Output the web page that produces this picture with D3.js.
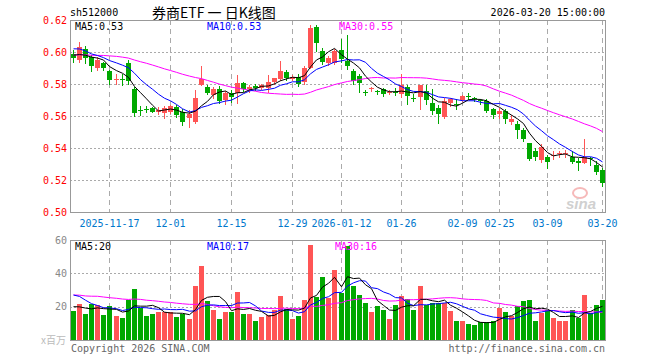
<!DOCTYPE html>
<html>
<head>
<meta charset="utf-8">
<script src="https://cdn.jsdelivr.net/npm/d3@7"></script>
<style>
body { margin: 0; background: #fff; }
text { font-family: "DejaVu Sans Mono", monospace; font-size: 10px; }
</style>
</head>
<body>
<div id="vis"></div>
<script>
// daily bars, 2025-11-07 .. 2026-03-20
var opens = [.599,.595,.602,.597,.590,.593,.588,.5828,.5832,.593,
  .577,.5635,.5645,.5648,.5628,.562,.5628,.5655,.5625,.5585,
  .5565,.5795,.5783,.5733,.5767,.570,.5745,.5742,.5804,.5769,
  .5789,.5777,.5773,.5815,.5831,.5877,.5831,.5846,.5815,.5902,
  .6158,.6006,.5929,.5929,.601,.5942,.5881,.585,.5752,.5768,
  .5755,.5767,.5748,.5752,.5735,.5779,.5712,.5717,.5756,.5679,
  .5652,.5596,.5679,.5675,.570,.5722,.5712,.5702,.5694,.5646,
  .561,.5631,.5563,.5548,.5513,.5433,.5381,.5325,.5346,.5352,
  .5363,.5363,.5346,.5321,.5304,.5339,.5292,.5263];
var closes = [.596,.603,.596,.591,.595,.590,.5825,.5833,.5828,.582,
  .5617,.5632,.564,.5628,.564,.5648,.5662,.5607,.556,.5612,
  .571,.583,.5746,.5767,.5696,.5742,.572,.5804,.5769,.5783,
  .5777,.5794,.5815,.5835,.5881,.5835,.5846,.5798,.5902,.6152,
  .6054,.594,.596,.6006,.5955,.5915,.5819,.5808,.5748,.5772,
  .5752,.5735,.5752,.5748,.5792,.5723,.5708,.5792,.5702,.5631,
  .561,.5694,.5704,.567,.5723,.5718,.5708,.5698,.5631,.5604,
  .5631,.5579,.5583,.5513,.5458,.5329,.5346,.5408,.5315,.5356,
  .5367,.5367,.5315,.5304,.5342,.5335,.525,.5179];
var highs = [.601,.606,.604,.598,.597,.594,.589,.586,.586,.595,
  .578,.566,.566,.5655,.5655,.566,.567,.567,.5645,.564,
  .5763,.591,.5795,.578,.5785,.5755,.5765,.5856,.5815,.5795,
  .580,.580,.5856,.584,.5944,.589,.5855,.5865,.5915,.6169,
  .6168,.6025,.5975,.602,.608,.6104,.5895,.5862,.5765,.578,
  .5765,.5772,.5762,.5772,.5861,.5792,.5735,.5795,.5792,.577,
  .5668,.571,.5715,.5705,.5732,.5745,.5718,.5705,.5705,.5652,
  .5652,.5645,.5604,.5569,.5527,.5433,.5402,.5427,.5354,.5381,
  .5381,.5385,.5381,.5335,.5454,.5342,.5317,.5277];
var lows = [.594,.594,.593,.588,.589,.589,.580,.580,.5795,.580,
  .560,.5605,.5625,.5622,.561,.559,.562,.5595,.5545,.553,
  .5555,.5792,.5735,.5712,.568,.5675,.569,.568,.5755,.575,
  .5765,.577,.5752,.580,.5825,.5828,.5825,.579,.5798,.590,
  .6006,.5925,.592,.5925,.594,.5895,.580,.5752,.573,.5755,
  .5738,.5725,.5735,.573,.572,.5673,.5692,.5646,.5673,.561,
  .5554,.5585,.5665,.5645,.5695,.5705,.5695,.5675,.5625,.559,
  .559,.5554,.5548,.5464,.5446,.5323,.5323,.5315,.5277,.533,
  .5342,.5342,.5308,.5265,.5304,.5296,.5235,.5163];
// volume, millions
var volumes = [17.4,21.4,15.4,21.4,20.8,15,20.4,14.3,13.3,24,
  30.5,19.4,14.3,15.8,17,17,17,13.7,15.4,12.9,
  32.3,44.4,23.2,17.8,12.9,17,17,28.9,15.8,15.8,
  11.7,13.7,15,17.8,26.3,18.4,12.9,14.3,23.8,56.8,
  25.9,38,25.5,42,28.3,56.2,32.3,26.9,22,16.6,
  20.4,18,12.9,20.8,26.3,24.8,17.8,32.3,20.8,22,
  22,22.4,17.2,11.7,11.1,9.9,9.3,10.9,10.9,11.7,
  19,17,14.3,20.4,23.4,23.8,11.7,16,17.8,13.3,
  11.7,11.7,17.8,13,27,16,21,24];
// 29 sessions before the window, only used for the moving averages
var prevClose = [.594,.598,.600,.596,.592,.590,.593,.597,.600,.598,
  .595,.593,.596,.599,.601,.598,.594,.592,.596,.598,
  .604,.608,.610,.605,.603,.601,.598,.597,.598];
var prevVolume = [24,30,26,22,28,33,25,27,31,23,26,29,24,28,30,25,27,26,23,33,
  30,38,42,32,28,22,19,24,17.6];

var tickIdx = [6, 16, 26, 36, 44, 54, 64, 70, 78, 87];
var tickLabels = ["2025-11-17","12-01","12-15","12-29","2026-01-12","01-26","02-09","02-25","03-09","03-20"];
var priceTicks = [0.50, 0.52, 0.54, 0.56, 0.58, 0.60, 0.62];
var volTicks = [20, 40, 60];

var width = 660, height = 360;
var L = 70, R = 605;
var UP = "#ff5555", DOWN = "#00a800";
var GRID = "#aaaaaa";

var svg = d3.select("#vis")
    .append("svg")
    .attr("width", width)
    .attr("height", height)
    .style("display", "block");

var x = d3.scaleBand()
    .domain(d3.range(closes.length))
    .range([L + 1, R])
    .paddingInner(0.17)
    .paddingOuter(0);

var yP = d3.scaleLinear().domain([0.50, 0.62]).range([212, 20]);
var yV = d3.scaleLinear().domain([0, 60]).range([340, 240]);

function left(i) { return Math.round(x(i)); }
function cx(i) { return left(i) + 2.5; }

function movingAvg(series, prev, n) {
  var all = prev.concat(series), off = prev.length;
  return series.map(function(d, i) {
    return d3.mean(all.slice(off + i - n + 1, off + i + 1));
  });
}

var ma5 = movingAvg(closes, prevClose, 5);
var ma10 = movingAvg(closes, prevClose, 10);
var ma30 = movingAvg(closes, prevClose, 30);
var vma5 = movingAvg(volumes, prevVolume, 5);
var vma10 = movingAvg(volumes, prevVolume, 10);
var vma30 = movingAvg(volumes, prevVolume, 30);

// header
svg.append("text").attr("x", 70).attr("y", 16).attr("fill", "#000").text("sh512000");
svg.append("text").attr("x", 152).attr("y", 18)
   .attr("xml:space", "preserve")
   .style("font-family", "'Noto Sans CJK SC', sans-serif").style("font-size", "14px")
   .attr("fill", "#000").text("券商ETF 一 日K线图");
svg.append("text").attr("x", R).attr("y", 16).attr("text-anchor", "end")
   .attr("fill", "#000").text("2026-03-20 15:00:00");

// panels: grid
function panel(yScale, ticks, top, bottom) {
  var g = svg.append("g");
  g.selectAll("line.h")
    .data(ticks.filter(function(t) {
      var y = yScale(t); return y > top + 1 && y < bottom - 1;
    }))
    .join("line")
      .attr("x1", L).attr("x2", R)
      .attr("y1", function(d) { return Math.round(yScale(d)) + 0.5; })
      .attr("y2", function(d) { return Math.round(yScale(d)) + 0.5; })
      .attr("stroke", GRID).attr("stroke-dasharray", "2,2");
  g.selectAll("line.v")
    .data(tickIdx)
    .join("line")
      .attr("x1", cx).attr("x2", cx)
      .attr("y1", top).attr("y2", bottom)
      .attr("stroke", GRID).attr("stroke-dasharray", "5,4");
  g.append("rect")
    .attr("x", L + 0.5).attr("y", top + 0.5)
    .attr("width", R - L).attr("height", bottom - top)
    .attr("fill", "none").attr("stroke", "#999");
}
panel(yP, priceTicks, 20, 212);
panel(yV, volTicks, 240, 340);

// watermark
var wm = svg.append("g").attr("opacity", 0.55);
wm.append("ellipse").attr("cx", 580).attr("cy", 193).attr("rx", 7).attr("ry", 5)
  .attr("fill", "none").attr("stroke", "#f08080").attr("stroke-width", 2);
wm.append("text").attr("x", 566).attr("y", 209)
  .style("font-family", "Arial, 'Liberation Sans', sans-serif")
  .style("font-size", "15px").style("font-weight", "bold").style("font-style", "italic")
  .attr("fill", "#aaa").text("sina");

// candles
var idx = d3.range(closes.length);
function col(i) { return closes[i] >= opens[i] ? UP : DOWN; }

svg.append("g").selectAll("line")
  .data(idx)
  .join("line")
    .attr("x1", cx).attr("x2", cx)
    .attr("y1", function(i) { return Math.round(yP(highs[i])); })
    .attr("y2", function(i) { return Math.round(yP(lows[i])) + 1; })
    .attr("stroke", col);

svg.append("g").selectAll("rect")
  .data(idx)
  .join("rect")
    .attr("x", left)
    .attr("width", 5)
    .attr("y", function(i) { return Math.round(yP(Math.max(opens[i], closes[i]))); })
    .attr("height", function(i) {
      return Math.max(1, Math.round(yP(Math.min(opens[i], closes[i]))) - Math.round(yP(Math.max(opens[i], closes[i]))));
    })
    .attr("fill", col);

// volume bars
svg.append("g").selectAll("rect")
  .data(idx)
  .join("rect")
    .attr("x", left)
    .attr("width", 5)
    .attr("y", function(i) { return Math.round(yV(volumes[i])); })
    .attr("height", function(i) { return 340 - Math.round(yV(volumes[i])); })
    .attr("fill", col);

// moving average lines
function maLine(values, yScale, color) {
  svg.append("path")
    .datum(values)
    .attr("fill", "none")
    .attr("stroke", color)
    .attr("stroke-width", 1)
    .attr("d", d3.line().x(function(d, i) { return cx(i); }).y(function(d) { return yScale(d); }));
}
maLine(ma30, yP, "#ff00ff");
maLine(ma10, yP, "#0000ff");
maLine(ma5, yP, "#000000");
maLine(vma30, yV, "#ff00ff");
maLine(vma10, yV, "#0000ff");
maLine(vma5, yV, "#000000");

// legends
var last = closes.length - 1;
var f2 = d3.format(".2f");
function legend(y, items) {
  svg.append("g").selectAll("text")
    .data(items)
    .join("text")
      .attr("x", function(d) { return d[0]; })
      .attr("y", y)
      .attr("fill", function(d) { return d[1]; })
      .text(function(d) { return d[2]; });
}
legend(30, [[75, "#000", "MA5:" + f2(ma5[last])],
            [207, "#0000ff", "MA10:" + f2(ma10[last])],
            [339, "#ff00ff", "MA30:" + f2(ma30[last])]]);
legend(250, [[75, "#000", "MA5:" + Math.floor(vma5[last])],
             [207, "#0000ff", "MA10:" + Math.floor(vma10[last])],
             [335, "#ff00ff", "MA30:" + Math.floor(vma30[last])]]);

// axes
var axP = svg.append("g")
    .attr("transform", "translate(" + L + ",0)")
    .call(d3.axisLeft(yP).tickValues(priceTicks).tickSize(0).tickPadding(3).tickFormat(f2));
axP.select(".domain").remove();
axP.selectAll("text").attr("fill", "#ff0000")
   .style("font-family", "'DejaVu Sans Mono', monospace").style("font-size", "10px");

var axV = svg.append("g")
    .attr("transform", "translate(" + L + ",0)")
    .call(d3.axisLeft(yV).tickValues(volTicks).tickSize(0).tickPadding(3));
axV.select(".domain").remove();
axV.selectAll("text").attr("fill", "#888")
   .style("font-family", "'DejaVu Sans Mono', monospace").style("font-size", "10px");

var axX = svg.append("g")
    .attr("transform", "translate(0,212)")
    .call(d3.axisBottom(x).tickValues(tickIdx).tickSize(0).tickPadding(8)
      .tickFormat(function(i) { return tickLabels[tickIdx.indexOf(i)]; }));
axX.select(".domain").remove();
axX.selectAll(".tick").attr("transform", function(i) { return "translate(" + cx(i) + ",0)"; });
axX.selectAll("text").attr("fill", "#0077cc")
   .style("font-family", "'DejaVu Sans Mono', monospace").style("font-size", "10px");

// footer
svg.append("text").attr("x", 66).attr("y", 344).attr("text-anchor", "end")
   .style("font-family", "'Noto Sans CJK SC', sans-serif").style("font-size", "10px")
   .attr("fill", "#bbb").text("x百万");
svg.append("text").attr("x", 71).attr("y", 352).attr("fill", "#666").text("Copyright 2026 SINA.COM");
svg.append("text").attr("x", R).attr("y", 352).attr("text-anchor", "end")
   .attr("fill", "#666").text("http://finance.sina.com.cn");
</script>
</body>
</html>
